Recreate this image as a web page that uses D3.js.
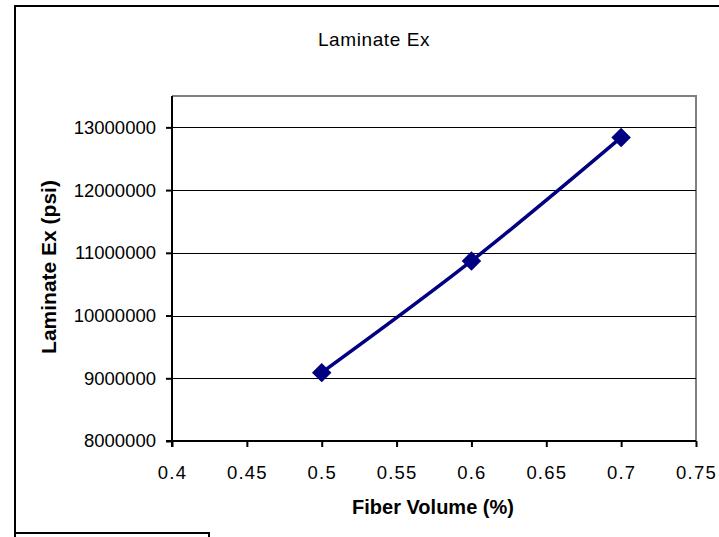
<!DOCTYPE html>
<html>
<head>
<meta charset="utf-8">
<script src="https://cdn.jsdelivr.net/npm/d3@7"></script>
<style>
  html, body { margin: 0; padding: 0; background: #fff; }
  svg { display: block; font-family: "Liberation Sans", Arial, sans-serif; }
</style>
</head>
<body>
<svg id="chart" width="719" height="537"></svg>
<script>
// ---- data ----
const fiberVolume = [0.5, 0.6, 0.7];
const laminateEx = [9090000, 10870000, 12840000];
const xTickValues = [0.4, 0.45, 0.5, 0.55, 0.6, 0.65, 0.7, 0.75];
const yTickValues = [8000000, 9000000, 10000000, 11000000, 12000000, 13000000];
const chartTitle = "Laminate Ex";
const xTitle = "Fiber Volume (%)";
const yTitle = "Laminate Ex (psi)";

const svg = d3.select("#chart");
const W = 719, H = 537;
const plot = { left: 172, top: 96, right: 696, bottom: 441 };

// outer chart border
svg.append("path")
  .attr("d", `M${W + 5},6 L15,6 L15,${H + 5}`)
  .attr("fill", "none").attr("stroke", "#000").attr("stroke-width", 2);
svg.append("path")
  .attr("d", `M15,533 L209,533 L209,${H + 5}`)
  .attr("fill", "none").attr("stroke", "#000").attr("stroke-width", 2);

const x = d3.scaleLinear().domain([0.4, 0.75]).range([plot.left, plot.right]);
const y = d3.scaleLinear().domain([8000000, 13500000]).range([plot.bottom, plot.top]);

// plot area border (top/right gray)
svg.append("path")
  .attr("d", `M${plot.left},${plot.top} L${plot.right},${plot.top} L${plot.right},${plot.bottom}`)
  .attr("fill", "none").attr("stroke", "#808080").attr("stroke-width", 2);

// gridlines
svg.append("g").selectAll("line")
  .data(yTickValues.filter(v => v > 8000000))
  .join("line")
  .attr("x1", plot.left).attr("x2", plot.right)
  .attr("y1", d => Math.round(y(d)) + 0.5).attr("y2", d => Math.round(y(d)) + 0.5)
  .attr("stroke", "#000").attr("stroke-width", 1);

// y axis
const yAxis = d3.axisLeft(y).tickValues(yTickValues).tickSize(6).tickPadding(10)
  .tickFormat(d3.format("d"));
const gy = svg.append("g").attr("transform", `translate(${plot.left},0)`).call(yAxis);
gy.select(".domain").attr("stroke", "#000").attr("stroke-width", 2)
  .attr("d", `M0,${plot.top}V${plot.bottom + 6}`);
gy.selectAll(".tick line").attr("stroke", "#000").attr("stroke-width", 2);
gy.selectAll(".tick text").attr("font-size", 18.5).attr("fill", "#000")
  .attr("font-family", "Liberation Sans, Arial, sans-serif");

// x axis
const xAxis = d3.axisBottom(x).tickValues(xTickValues).tickSize(6).tickPadding(19)
  .tickFormat(d => String(d));
const gx = svg.append("g").attr("transform", `translate(0,${plot.bottom})`).call(xAxis);
gx.select(".domain").attr("stroke", "#000").attr("stroke-width", 2)
  .attr("d", `M${plot.left - 6},0H${plot.right}`);
gx.selectAll(".tick line").attr("stroke", "#000").attr("stroke-width", 2);
gx.selectAll(".tick text").attr("font-size", 18.5).attr("fill", "#000")
  .attr("letter-spacing", "1.2px")
  .attr("font-family", "Liberation Sans, Arial, sans-serif");

// series line
const pts = fiberVolume.map((v, i) => [v, laminateEx[i]]);
const line = d3.line().x(d => x(d[0])).y(d => y(d[1])).curve(d3.curveCatmullRom.alpha(0.5));
svg.append("path").datum(pts).attr("d", line)
  .attr("fill", "none").attr("stroke", "#000080").attr("stroke-width", 3.5)
  .attr("stroke-linejoin", "round");

// markers (diamonds)
svg.append("g").selectAll("path")
  .data(pts).join("path")
  .attr("d", d3.symbol(d3.symbolSquare, 190))
  .attr("transform", d => `translate(${x(d[0])},${y(d[1])}) rotate(45)`)
  .attr("fill", "#000080");

// titles
svg.append("text").attr("x", 374).attr("y", 46).attr("text-anchor", "middle")
  .attr("font-size", 19).attr("letter-spacing", "0.6px").text(chartTitle);
svg.append("text").attr("x", 433).attr("y", 514).attr("text-anchor", "middle")
  .attr("font-size", 20).attr("font-weight", "bold").text(xTitle);
svg.append("text").attr("transform", "translate(56,267) rotate(-90)")
  .attr("text-anchor", "middle")
  .attr("font-size", 21).attr("font-weight", "bold").text(yTitle);
</script>
</body>
</html>
